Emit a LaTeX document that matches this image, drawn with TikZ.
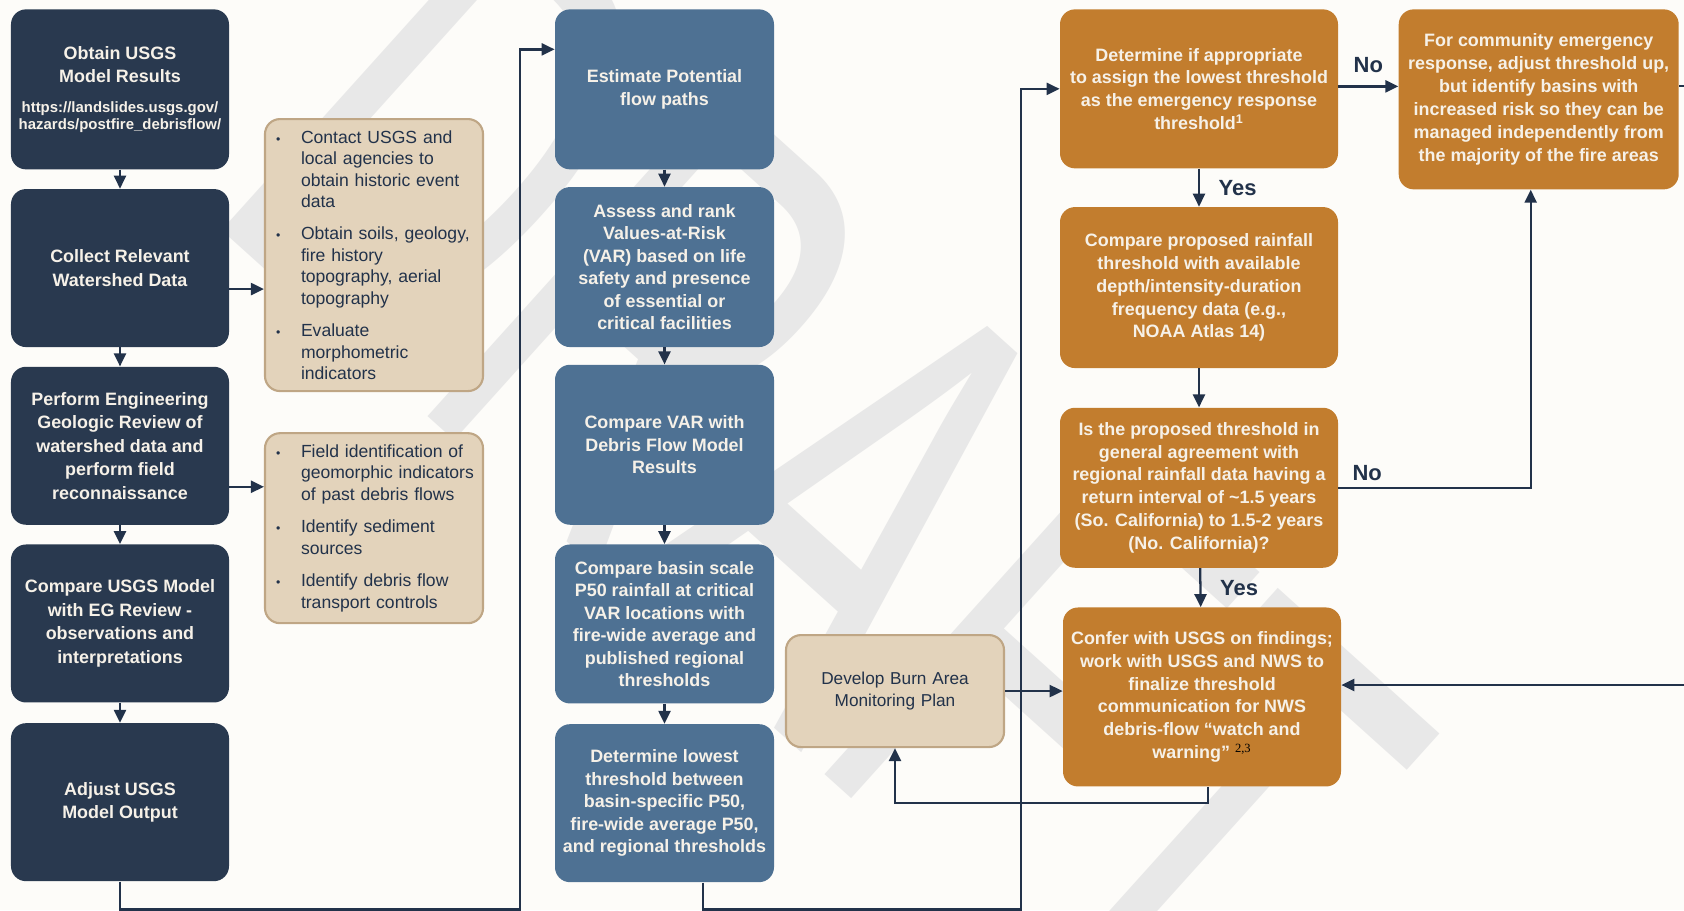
\documentclass[tikz,border=0pt]{standalone}
\usepackage{fontspec}
\setmainfont{Liberation Sans}
\newfontfamily\notefont{Liberation Serif}
\newfontfamily\markfont{Liberation Sans}[FakeStretch=0.6]
\usepackage{xcolor}
\usepackage{tikz}
\usetikzlibrary{arrows.meta, positioning}

\definecolor{navy}{HTML}{29394F}
\definecolor{steel}{HTML}{4E7193}
\definecolor{ochre}{HTML}{C27D2E}
\definecolor{sand}{HTML}{E3D3BB}
\definecolor{sandline}{HTML}{BFA685}
\definecolor{ink}{HTML}{22324A}
\definecolor{paper}{HTML}{FDFCF9}
\definecolor{boxtext}{HTML}{F6F1E8}

\newcommand{\urlline}[1]{{\fontsize{8.5}{9.8}\selectfont #1}}
\newcommand{\bulletitem}[1]{\hangindent=0.62cm\hangafter=1\noindent\makebox[0.62cm][l]{\hspace{0.12cm}\scriptsize\textbullet}#1\par}

\begin{document}
\begin{tikzpicture}[
darkstep/.style={rectangle, fill=navy, text=boxtext, rounded corners=0.3cm, align=center, minimum width=4.36cm, minimum height=3.16cm, inner sep=0.1cm, font=\bfseries\fontsize{10.2}{13.4}\selectfont},
bluestep/.style={rectangle, fill=steel, text=boxtext, rounded corners=0.3cm, align=center, minimum width=4.38cm, minimum height=3.18cm, inner sep=0.1cm, font=\bfseries\fontsize{10.2}{12.8}\selectfont},
goldstep/.style={rectangle, fill=ochre, text=boxtext, rounded corners=0.3cm, align=center, minimum width=5.56cm, minimum height=3.2cm, inner sep=0.1cm, font=\bfseries\fontsize{10.2}{13}\selectfont},
notes/.style={rectangle, fill=sand, draw=sandline, line width=1.2pt, text=ink, rounded corners=0.3cm, text width=4.16cm, align=left, minimum height=3.8cm, inner xsep=0.1cm, font=\fontsize{10}{12.2}\selectfont},
flow/.style={draw=ink, line width=1.3pt, -{Triangle[length=2.6mm, width=2.4mm]}},
wire/.style={draw=ink, line width=1.3pt},
answer/.style={text=ink, font=\bfseries\fontsize{12.5}{14}\selectfont, inner sep=2pt}
]
	\useasboundingbox (0,0) rectangle (33.68,-18.2);
	\fill[paper] (0,0) rectangle (33.68,-18.2);
	\node[text=black!9, rotate=-42, font=\markfont\fontsize{365}{365}\selectfont] (mark) at (16.45,-9.50) {DRAFT};

	\node[darkstep, anchor=north, minimum height=3.2cm] (l1) at (2.40,-0.18) {Obtain USGS\\Model Results\\[3.5pt]\urlline{https://landslides.usgs.gov/}\\[-3.8pt]\urlline{hazards/postfire\_debrisflow/}};
	\node[darkstep, anchor=north, shift={(0cm,-0.38cm)}] (l2) at (l1.south) {Collect Relevant\\Watershed Data};
	\node[darkstep, anchor=north, shift={(0cm,-0.38cm)}] (l3) at (l2.south) {Perform Engineering\\Geologic Review of\\watershed data and\\perform field\\reconnaissance};
	\node[darkstep, anchor=north, shift={(0cm,-0.38cm)}] (l4) at (l3.south) {Compare USGS Model\\with EG Review -\\observations and\\interpretations};
	\node[darkstep, anchor=north, shift={(0cm,-0.40cm)}] (l5) at (l4.south) {Adjust USGS\\Model Output};

	\node[notes, anchor=north, minimum height=5.44cm] (t1) at (7.48,-2.36) {\setlength{\parskip}{0pt}%
		\bulletitem{Contact USGS and\newline local agencies to\newline obtain historic event\newline data}\vspace{0.22cm}%
		\bulletitem{Obtain soils, geology,\newline fire history\newline topography, aerial\newline topography}\vspace{0.22cm}%
		\bulletitem{Evaluate\newline morphometric\newline indicators}};
	\node[notes, anchor=north, shift={(0cm,-0.8cm)}] (t2) at (t1.south) {\setlength{\parskip}{0pt}%
		\bulletitem{Field identification of\newline geomorphic indicators\newline of past debris flows}\vspace{0.22cm}%
		\bulletitem{Identify sediment\newline sources}\vspace{0.22cm}%
		\bulletitem{Identify debris flow\newline transport controls}};

	\node[bluestep, anchor=north, minimum height=3.2cm] (m1) at (13.29,-0.18) {Estimate Potential\\flow paths};
	\node[bluestep, anchor=north, shift={(0cm,-0.34cm)}, minimum height=3.2cm] (m2) at (m1.south) {Assess and rank\\Values-at-Risk\\(VAR) based on life\\safety and presence\\of essential or\\critical facilities};
	\node[bluestep, anchor=north, shift={(0cm,-0.34cm)}, minimum height=3.2cm] (m3) at (m2.south) {Compare VAR with\\Debris Flow Model\\Results};
	\node[bluestep, anchor=north, shift={(0cm,-0.38cm)}] (m4) at (m3.south) {Compare basin scale\\P50 rainfall at critical\\VAR locations with\\fire-wide average and\\published regional\\thresholds};
	\node[bluestep, anchor=north, shift={(0cm,-0.40cm)}, minimum height=3.16cm] (m5) at (m4.south) {Determine lowest\\threshold between\\basin-specific P50,\\fire-wide average P50,\\and regional thresholds};

	\node[notes, anchor=north, align=center, minimum height=2.24cm, font=\fontsize{9.8}{12.2}\selectfont] (t3) at (17.90,-12.68) {Develop Burn Area\\Monitoring Plan};

	\node[goldstep, anchor=north, minimum height=3.18cm] (r1) at (23.98,-0.18) {Determine if appropriate\\to assign the lowest threshold\\as the emergency response\\threshold\textsuperscript{1}};
	\node[goldstep, anchor=north, shift={(0cm,-0.76cm)}, minimum height=3.22cm] (r2) at (r1.south) {Compare proposed rainfall\\threshold with available\\depth/intensity-duration\\frequency data (e.g.,\\NOAA Atlas 14)};
	\node[goldstep, anchor=north, shift={(0cm,-0.78cm)}] (r3) at (r2.south) {Is the proposed threshold in\\general agreement with\\regional rainfall data having a\\return interval of \textasciitilde1.5 years\\(So. California) to 1.5-2 years\\(No. California)?};
	\node[goldstep, anchor=north, shift={(0.06cm,-0.78cm)}, minimum height=3.58cm] (r4) at (r3.south) {Confer with USGS on findings;\\work with USGS and NWS to\\finalize threshold\\communication for NWS\\debris-flow “watch and\\warning” \textsuperscript{\notefont\mdseries\color{black}2,3}};
	\node[goldstep, anchor=north west, shift={(1.2cm,0cm)}, minimum width=5.6cm, minimum height=3.6cm] (r5) at (r1.north east) {For community emergency\\response, adjust threshold up,\\but identify basins with\\increased risk so they can be\\managed independently from\\the majority of the fire areas};

	\coordinate (e1) at (33.68,-1.72);
	\coordinate (e2) at (33.68,-13.70);

	\draw[flow] (l1) -- (l2);
	\draw[flow] (l2) -- (l3);
	\draw[flow] (l3) -- (l4);
	\draw[flow] (l4) -- (l5);
	\draw[flow] ([yshift=-0.42cm]l2.east) -- ([yshift=-0.42cm]l2.east -| t1.west);
	\draw[flow] ([yshift=-0.82cm]l3.east) -- ([yshift=-0.82cm]l3.east -| t2.west);
	\draw[flow] (l5.south) -- ++(0,-0.56) -| ([xshift=-0.7cm, yshift=0.8cm]m1.west) -- ([yshift=0.8cm]m1.west);

	\draw[flow] (m1) -- (m2);
	\draw[flow] (m2) -- (m3);
	\draw[flow] (m3) -- (m4);
	\draw[flow] (m4) -- (m5);
	\draw[flow] ([xshift=0.77cm]m5.south) -- ++(0,-0.54) -| ([xshift=-0.78cm]r1.west) -- (r1.west);

	\draw[flow] (t3.east) -- (t3.east -| r4.west);
	\draw[flow] ([xshift=0.12cm]r4.south) -- ++(0,-0.32) -| (t3.south);

	\draw[flow] ([yshift=0.05cm]r1.east) -- node[answer, above, yshift=0.17cm] {No} ([yshift=0.05cm]r1.east -| r5.west);
	\draw[flow] (r1) -- node[answer, right, xshift=0.3cm] {Yes} (r2);
	\draw[flow] (r2) -- (r3);
	\draw[flow] (r3.east) -| node[answer, pos=0.075, above, yshift=0.04cm] {No} ([xshift=-0.16cm]r5.south);
	\draw[flow] (r3) -- node[answer, right, xshift=0.3cm] {Yes} (r4);
	\draw[wire] (e1 -| r5.east) -- (e1);
	\draw[flow] (e2) -- (e2 -| r4.east);
\end{tikzpicture}
\end{document}
